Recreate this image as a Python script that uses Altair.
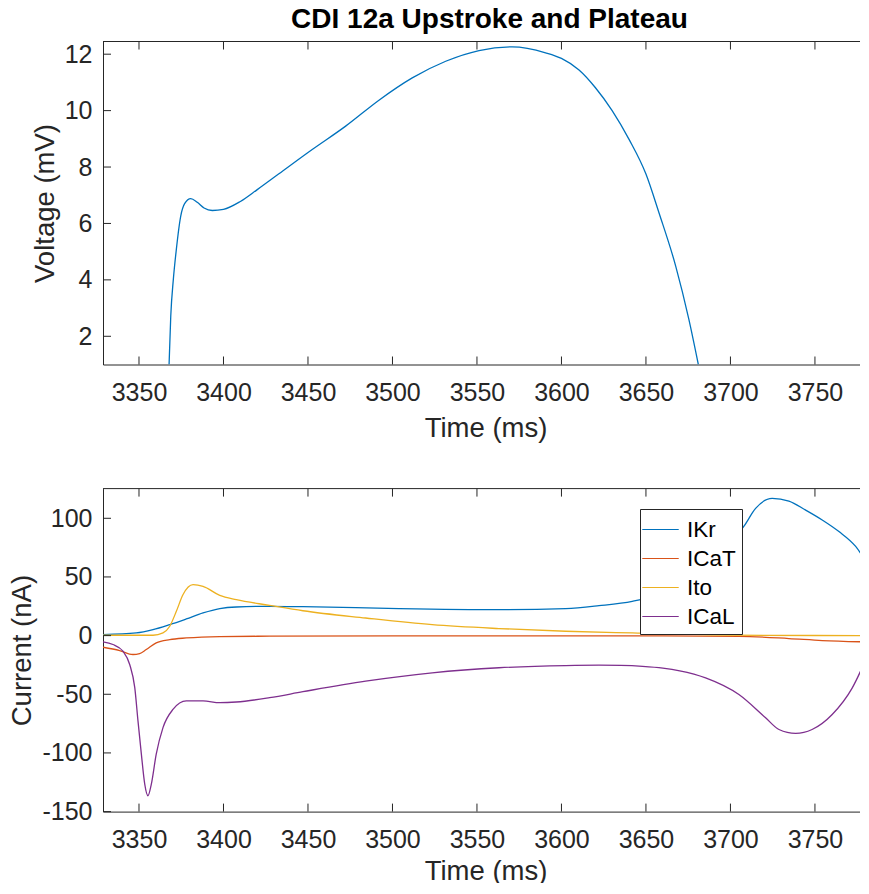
import altair as alt
import pandas as pd

# ---------------- data ----------------
V_T = [3367.8, 3368.8, 3370.3, 3372.1, 3374.7, 3377.0, 3380.6, 3384.5, 3388.5, 3393.4,
       3400.0, 3410.0, 3420.0, 3432.8, 3452.5, 3472.3, 3492.0, 3511.7, 3531.5, 3551.2,
       3570.9, 3590.6, 3600.0, 3610.4, 3620.0, 3630.0, 3640.0, 3650.0, 3657.7, 3667.6,
       3675.4, 3681.0]
V_V = [1.0, 2.72, 4.0, 5.08, 6.26, 6.70, 6.88, 6.75, 6.55, 6.46,
       6.50, 6.78, 7.20, 7.76, 8.62, 9.45, 10.37, 11.16, 11.75, 12.13,
       12.26, 12.05, 11.85, 11.44, 10.82, 10.00, 8.98, 7.75, 6.38, 4.49,
       2.60, 1.0]

IKR_T = [3328.7, 3348.4, 3358.3, 3368.2, 3378.0, 3387.9, 3397.8, 3407.6, 3427.3, 3447.0,
         3503.8, 3563.0, 3602.5, 3622.2, 3641.9, 3660.0, 3680.0, 3695.0, 3707.9, 3714.9,
         3724.7, 3734.6, 3744.5, 3754.3, 3764.2, 3774.1, 3781.4]
IKR_I = [0.9, 2.3, 5.1, 9.4, 14.2, 19.3, 23.0, 24.4, 25.0, 24.7,
         23.0, 22.1, 23.0, 25.5, 29.2, 36.0, 52.0, 72.0, 93.0, 108.5,
         117.0, 114.7, 107.0, 98.6, 88.7, 76.0, 60.3]

ICAT_T = [3328.7, 3338.6, 3346.4, 3350.4, 3354.3, 3360.2, 3368.2, 3378.0, 3397.8, 3427.3,
          3500.0, 3600.0, 3660.0, 3705.0, 3734.6, 3754.3, 3781.4]
ICAT_I = [-9.9, -12.7, -16.1, -15.3, -11.9, -6.2, -3.4, -2.0, -0.8, -0.5,
          -0.2, -0.2, -0.3, -0.6, -2.5, -4.2, -5.4]

ITO_T = [3328.7, 3358.3, 3364.2, 3368.2, 3372.1, 3376.0, 3382.0, 3387.9, 3397.8, 3407.6,
         3427.3, 3447.0, 3484.1, 3523.5, 3563.0, 3602.5, 3641.9, 3700.0, 3781.4]
ITO_I = [0.3, 0.3, 2.3, 8.0, 20.7, 34.8, 43.4, 42.0, 34.3, 30.6,
         25.8, 21.2, 15.0, 9.3, 6.0, 3.7, 2.3, 0.4, 0.0]

ICAL_T = [3328.7, 3334.6, 3340.5, 3344.5, 3347.5, 3349.4, 3351.4, 3353.4, 3355.3, 3357.3,
          3360.2, 3364.2, 3370.1, 3378.0, 3387.9, 3397.8, 3407.6, 3427.3, 3447.0, 3484.1,
          3523.5, 3563.0, 3602.5, 3622.2, 3635.0, 3648.0, 3660.0, 3670.0, 3685.3, 3705.0,
          3720.8, 3728.7, 3738.6, 3748.3, 3760.2, 3772.1, 3781.4]
ICAL_I = [-5.4, -7.6, -13.3, -24.6, -44.4, -72.7, -101.0, -126.6, -136.5, -126.6,
          -101.0, -78.4, -62.9, -55.7, -55.7, -57.2, -56.6, -52.9, -47.8, -38.8,
          -31.7, -27.4, -25.5, -25.2, -25.4, -26.2, -27.7, -30.0, -36.0, -50.2,
          -70.0, -80.0, -83.3, -80.0, -67.2, -44.5, -16.2]

SERIES = ["IKr", "ICaT", "Ito", "ICaL"]
COLORS = ["#0072BD", "#D95319", "#EDB120", "#7E2F8E"]

X_TICKS = [3350, 3400, 3450, 3500, 3550, 3600, 3650, 3700, 3750]
V_TICKS = [2, 4, 6, 8, 10, 12]
I_TICKS = [-150, -100, -50, 0, 50, 100]

X_DOMAIN = [3328.7, 3781.4]
V_DOMAIN = [1, 12.45]
I_DOMAIN = [-150, 125.3]

TITLE = "CDI 12a Upstroke and Plateau"

# ---------------- tables ----------------
volt = pd.DataFrame({"t": V_T, "v": V_V})
parts = []
for name, ts, vs in [("IKr", IKR_T, IKR_I), ("ICaT", ICAT_T, ICAT_I),
                     ("Ito", ITO_T, ITO_I), ("ICaL", ICAL_T, ICAL_I)]:
    parts.append(pd.DataFrame({"t": ts, "i": vs, "s": name}))
curr = pd.concat(parts, ignore_index=True)
xt = pd.DataFrame({"t": X_TICKS})
vt = pd.DataFrame({"v": V_TICKS})
it = pd.DataFrame({"i": I_TICKS})
one = pd.DataFrame({"k": [0]})

W, H = 765, 323
FONT = "Liberation Sans"
AX = "#262626"
TL = 8
LBL = "'' + datum.value"

xs = alt.Scale(domain=X_DOMAIN, nice=False, zero=False)
vs_ = alt.Scale(domain=V_DOMAIN, nice=False, zero=False)
is_ = alt.Scale(domain=I_DOMAIN, nice=False, zero=False)


def panel(df_line, yfield, yscale, yticks, ytitle, ydf, tpad, xtpad, color=None):
    xax = alt.Axis(values=X_TICKS, title="Time (ms)", ticks=False, tickSize=0,
                   labelPadding=16, titlePadding=xtpad, grid=False, labelExpr=LBL)
    yax = alt.Axis(values=yticks, title=ytitle, ticks=False, tickSize=0,
                   labelPadding=11, titlePadding=tpad, grid=False, labelExpr=LBL)
    X = alt.X("t:Q", scale=xs, axis=xax, title="Time (ms)")
    enc = dict(x=X, y=alt.Y(f"{yfield}:Q", scale=yscale, axis=yax, title=ytitle))
    if color is not None:
        enc["color"] = color
        enc["detail"] = "s:N"
        enc["order"] = alt.Order("t:Q")
        line = alt.Chart(df_line).mark_line(strokeWidth=1.3, clip=True,
                                             interpolate="monotone").encode(**enc)
    else:
        line = alt.Chart(df_line).mark_line(strokeWidth=1.3, clip=True,
                                             interpolate="monotone",
                                             color="#0072BD").encode(**enc)
    xb = alt.Chart(xt).mark_rule(color=AX, strokeWidth=1).encode(
        x=X, y=alt.value(H), y2=alt.value(H - TL))
    xtp = alt.Chart(xt).mark_rule(color=AX, strokeWidth=1).encode(
        x=X, y=alt.value(0), y2=alt.value(TL))
    yl = alt.Chart(ydf).mark_rule(color=AX, strokeWidth=1).encode(
        y=alt.Y(f"{yfield}:Q", scale=yscale, axis=yax, title=ytitle),
        x=alt.value(0), x2=alt.value(TL))
    top = alt.Chart(one).mark_rule(color=AX, strokeWidth=1).encode(
        x=alt.value(0), x2=alt.value(W), y=alt.value(0))
    return alt.layer(line, xb, xtp, yl, top).properties(width=W, height=H)


top = panel(volt, "v", vs_, V_TICKS, "Voltage (mV)", vt, 5, 9).properties(
    title=alt.TitleParams(TITLE, fontSize=28, fontWeight="bold", font=FONT,
                          color="#000000", anchor="middle", frame="group",
                          offset=6.7, dx=4))

color = alt.Color("s:N", scale=alt.Scale(domain=SERIES, range=COLORS),
                  legend=alt.Legend(title=None, orient="none", legendX=537, legendY=467.5,
                                    fillColor="white", strokeColor=AX, padding=6,
                                    symbolType="M-1.35,0L1.35,0", symbolSize=729,
                                    symbolStrokeWidth=1.2, labelFontSize=22.5,
                                    labelFont=FONT, labelColor="#000000",
                                    labelOffset=12, rowPadding=3.0))
bottom = panel(curr, "i", is_, I_TICKS, "Current (nA)", it, 5.7, 5, color=color)

chart = alt.vconcat(top, bottom, spacing=45.1).properties(
    padding={"left": 0, "top": -2.5, "right": -9, "bottom": -2.5}
).configure_view(stroke=None).configure_axis(
    labelFont=FONT, titleFont=FONT, labelFontSize=25, titleFontSize=27.5,
    titleFontWeight="normal", labelColor=AX, titleColor=AX,
    domainColor=AX, domainWidth=1
)

chart.save("out.html", embed_options={"renderer": "svg", "actions": False})
